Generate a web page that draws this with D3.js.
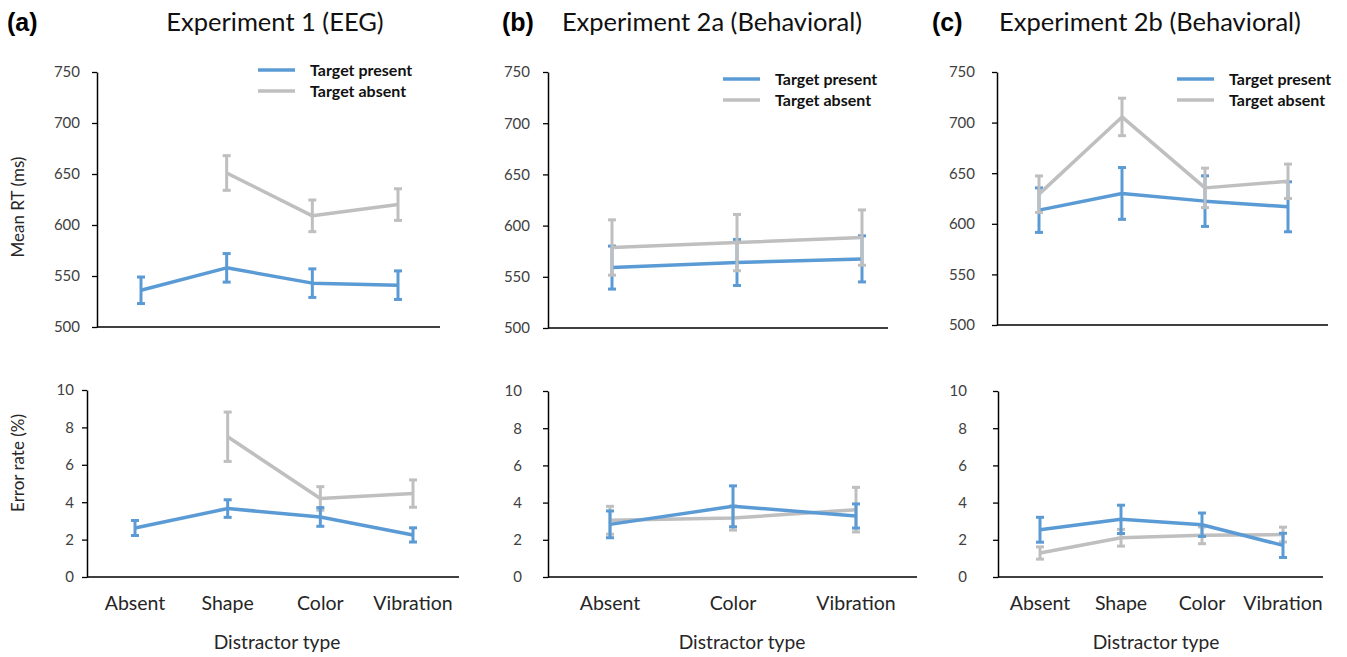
<!DOCTYPE html>
<html>
<head>
<meta charset="utf-8">
<script src="https://cdn.jsdelivr.net/npm/d3@7"></script>
<style>
	body { margin: 0; background: #fff; }
	svg text { font-family: Lato, "Open Sans", sans-serif; }
</style>
</head>
<body>
<div id="chart"></div>
<script>
// Mean RT and error rate per distractor type, three experiments.

// categories
let catsFour	= [ "Absent", "Shape", "Color", "Vibration" ] ;
let catsThree	= [ "Absent", "Color", "Vibration" ] ;

// Experiment 1 (EEG)
let rtPresent1		= [ 536, 558, 543, 541 ] ;
let rtPresentErr1	= [ 13, 14, 14, 14 ] ;
let rtAbsent1		= [ null, 651, 609, 620 ] ;
let rtAbsentErr1	= [ null, 17, 15.5, 15.5 ] ;
let erPresent1		= [ 2.62, 3.66, 3.21, 2.25 ] ;
let erPresentErr1	= [ 0.4, 0.47, 0.5, 0.38 ] ;
let erAbsent1		= [ null, 7.5, 4.2, 4.46 ] ;
let erAbsentErr1	= [ null, 1.32, 0.63, 0.73 ] ;

// Experiment 2a (Behavioral)
let rtPresent2a		= [ 559, 564, 567.5 ] ;
let rtPresentErr2a	= [ 21, 22.5, 22.5 ] ;
let rtAbsent2a		= [ 578.6, 583.4, 588.3 ] ;
let rtAbsentErr2a	= [ 27, 27.5, 27 ] ;
let erPresent2a		= [ 2.83, 3.8, 3.28 ] ;
let erPresentErr2a	= [ 0.72, 1.1, 0.65 ] ;
let erAbsent2a		= [ 3.05, 3.17, 3.62 ] ;
let erAbsentErr2a	= [ 0.75, 0.65, 1.2 ] ;

// Experiment 2b (Behavioral)
let rtPresent2b		= [ 613.5, 630, 622.4, 616.8 ] ;
let rtPresentErr2b	= [ 22, 25.6, 25, 24.7 ] ;
let rtAbsent2b		= [ 629.3, 705.6, 635.5, 642 ] ;
let rtAbsentErr2b	= [ 18, 18.5, 19.5, 17 ] ;
let erPresent2b		= [ 2.54, 3.1, 2.81, 1.7 ] ;
let erPresentErr2b	= [ 0.67, 0.76, 0.63, 0.65 ] ;
let erAbsent2b		= [ 1.29, 2.11, 2.24, 2.28 ] ;
let erAbsentErr2b	= [ 0.33, 0.45, 0.45, 0.4 ] ;

// axis ticks
let rtTicks	= [ 500, 550, 600, 650, 700, 750 ] ;
let erTicks	= [ 0, 2, 4, 6, 8, 10 ] ;

let seriesNames	= [ "Target present", "Target absent" ] ;
let colPresent	= "#5b9bd5" ;
let colAbsent	= "#bfbfbf" ;

let svgwidth	= 1347 ;
let svgheight	= 657 ;

let svg	= d3.select("#chart").append("svg")
			.attr("width", svgwidth )
			.attr("height", svgheight ) ;

// panel headers
let headers = [
	{ tag: "(a)", tx: 7,   title: "Experiment 1 (EEG)",         cx: 275 },
	{ tag: "(b)", tx: 502, title: "Experiment 2a (Behavioral)", cx: 712 },
	{ tag: "(c)", tx: 932, title: "Experiment 2b (Behavioral)", cx: 1150 }
] ;

headers.forEach( h => {
	svg.append("text")
		.attr("x", h.tx ).attr("y", 31 )
		.attr("font-size", 25 ).attr("font-weight", "bold")
		.attr("fill", "#000")
		.style("font-family", "'Liberation Sans', Arial, sans-serif")
		.text( h.tag ) ;
	svg.append("text")
		.attr("x", h.cx ).attr("y", 31 )
		.attr("font-size", 25.5 ).attr("text-anchor", "middle")
		.attr("fill", "#111")
		.text( h.title ) ;
});

// one plot = one axis box with two series
makePlot = ( p )=>{

	let x	=	d3.scalePoint()
					.domain( p.cats )
					.range( [ p.c0, p.c1 ] ) ;

	let y	=	d3.scaleLinear()
					.domain( [ p.ticks[0], p.ticks[ p.ticks.length - 1 ] ] )
					.range( [ p.y0, p.y1 ] ) ;

	let g	= svg.append("g") ;

	// y axis
	let ax	= g.append("g")
				.attr("transform", "translate(" + p.ax + ",0)")
				.call( d3.axisLeft(y).tickValues( p.ticks ).tickSize(5).tickSizeOuter(0).tickPadding( p.pad ) ) ;
	ax.select(".domain").attr("stroke", "#000").attr("stroke-width", 1.5) ;
	ax.selectAll(".tick line").attr("stroke", "#000").attr("stroke-width", 1.3) ;
	ax.selectAll(".tick text")
		.attr("font-size", 15 )
		.attr("fill", "#404040")
		.style("font-family", "Lato, sans-serif") ;

	// x axis line
	g.append("line")
		.attr("x1", p.ax ).attr("x2", p.axEnd )
		.attr("y1", y( p.ticks[0] ) ).attr("y2", y( p.ticks[0] ) )
		.attr("stroke", "#000").attr("stroke-width", 1.5) ;

	let series	= [
		{ vals: p.present, errs: p.presentErr, col: colPresent },
		{ vals: p.absent,  errs: p.absentErr,  col: colAbsent }
	] ;
	if( p.presentOnTop ) series.reverse() ;

	series.forEach( s => {
		let pts	= p.cats.map( (c, i)=> ({ c: c, v: s.vals[i], e: s.errs[i] }) )
					.filter( d => d.v !== null ) ;

		g.append("path")
			.datum( pts )
			.attr("fill", "none")
			.attr("stroke", s.col )
			.attr("stroke-width", 3.5 )
			.attr("stroke-linejoin", "round")
			.attr("d", d3.line()
				.x( d => x(d.c) )
				.y( d => y(d.v) )
			) ;

		let eb	= g.append("g").selectAll("g").data( pts ).join("g")
					.attr("stroke", s.col ) ;
		eb.append("line")
			.attr("x1", d => x(d.c) ).attr("x2", d => x(d.c) )
			.attr("y1", d => y(d.v - d.e) ).attr("y2", d => y(d.v + d.e) )
			.attr("stroke-width", 3 ) ;
		eb.append("line")
			.attr("x1", d => x(d.c) - 4 ).attr("x2", d => x(d.c) + 4 )
			.attr("y1", d => y(d.v + d.e) ).attr("y2", d => y(d.v + d.e) )
			.attr("stroke-width", 3 ) ;
		eb.append("line")
			.attr("x1", d => x(d.c) - 4 ).attr("x2", d => x(d.c) + 4 )
			.attr("y1", d => y(d.v - d.e) ).attr("y2", d => y(d.v - d.e) )
			.attr("stroke-width", 3 ) ;
	});

	// category labels
	if( p.showCats ){
		g.selectAll(".cat").data( p.cats ).join("text")
			.attr("x", d => x(d) ).attr("y", 610 )
			.attr("text-anchor", "middle")
			.attr("font-size", 19.5 )
			.attr("fill", "#262626")
			.text( d => d ) ;
		g.append("text")
			.attr("x", p.xTitle ).attr("y", 649 )
			.attr("text-anchor", "middle")
			.attr("font-size", 19.2 )
			.attr("fill", "#262626")
			.text("Distractor type") ;
	}

	// legend
	if( p.legend ){
		let lg	= g.append("g").attr("transform", "translate(" + p.legend[0] + "," + p.legend[1] + ")") ;
		[ colPresent, colAbsent ].forEach( (c, i)=>{
			lg.append("line")
				.attr("x1", 0 ).attr("x2", 37 )
				.attr("y1", i * 21 ).attr("y2", i * 21 )
				.attr("stroke", c ).attr("stroke-width", 3.5 ) ;
			lg.append("text")
				.attr("x", 52 ).attr("y", i * 21 + 5.5 )
				.attr("font-size", 16 ).attr("font-weight", "bold")
				.attr("fill", "#111")
				.text( seriesNames[i] ) ;
		});
	}

	// y title
	if( p.yTitle ){
		g.append("text")
			.attr("transform", "translate(24," + p.yTitleY + ") rotate(-90)")
			.attr("text-anchor", "middle")
			.attr("font-size", 17 )
			.attr("fill", "#262626")
			.text( p.yTitle ) ;
	}
}

let plots = [
	{ cats: catsFour, ticks: rtTicks, y0: 327, y1: 72, ax: 97, axEnd: 440, c0: 141, c1: 398, pad: 12,
	  present: rtPresent1, presentErr: rtPresentErr1, absent: rtAbsent1, absentErr: rtAbsentErr1,
	  legend: [ 258, 70 ], yTitle: "Mean RT (ms)", yTitleY: 207 },
	{ cats: catsThree, ticks: rtTicks, y0: 328, y1: 72, ax: 548, axEnd: 888, c0: 612, c1: 862, pad: 13,
	  present: rtPresent2a, presentErr: rtPresentErr2a, absent: rtAbsent2a, absentErr: rtAbsentErr2a,
	  legend: [ 723, 79 ] },
	{ cats: catsFour, ticks: rtTicks, y0: 325, y1: 72, ax: 997, axEnd: 1328, c0: 1039, c1: 1288, pad: 17,
	  present: rtPresent2b, presentErr: rtPresentErr2b, absent: rtAbsent2b, absentErr: rtAbsentErr2b,
	  legend: [ 1177, 79 ] },
	{ cats: catsFour, ticks: erTicks, y0: 577, y1: 390, ax: 87, axEnd: 459, c0: 135, c1: 413, pad: 8,
	  present: erPresent1, presentErr: erPresentErr1, absent: erAbsent1, absentErr: erAbsentErr1,
	  presentOnTop: true, showCats: true, xTitle: 277, yTitle: "Error rate (%)", yTitleY: 463 },
	{ cats: catsThree, ticks: erTicks, y0: 577, y1: 391, ax: 548, axEnd: 917, c0: 610, c1: 856, pad: 21,
	  present: erPresent2a, presentErr: erPresentErr2a, absent: erAbsent2a, absentErr: erAbsentErr2a,
	  presentOnTop: true, showCats: true, xTitle: 742 },
	{ cats: catsFour, ticks: erTicks, y0: 577, y1: 391, ax: 998, axEnd: 1323, c0: 1040, c1: 1283, pad: 26,
	  present: erPresent2b, presentErr: erPresentErr2b, absent: erAbsent2b, absentErr: erAbsentErr2b,
	  presentOnTop: true, showCats: true, xTitle: 1156 }
] ;

plots.forEach( p => makePlot( p ) ) ;

</script>
</body>
</html>
